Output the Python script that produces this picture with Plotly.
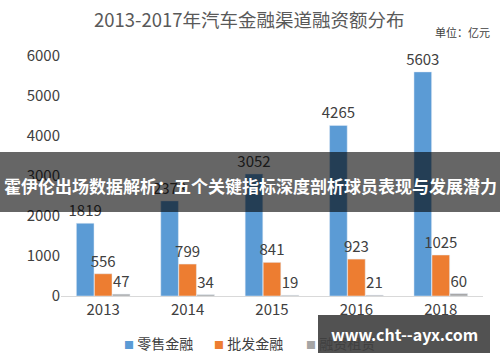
import plotly.graph_objects as go

years = ["2013", "2014", "2015", "2016", "2018"]
retail = [1819, 2378, 3052, 4265, 5603]
wholesale = [556, 799, 841, 923, 1025]
leasing = [47, 34, 19, 21, 60]
series_names = ["零售金融", "批发金融", "融资租赁"]
colors = ["#5B9BD5", "#ED7D31", "#A5A5A5"]
title_text = "2013-2017年汽车金融渠道融资额分布"
unit_text = "单位：亿元"
banner_text = "霍伊伦出场数据解析：五个关键指标深度剖析球员表现与发展潜力"
watermark_text = "www.cht--ayx.com"

FONT = "Noto Sans CJK SC"
fig = go.Figure()
for name, vals, c in zip(series_names, [retail, wholesale, leasing], colors):
    fig.add_trace(go.Bar(
        x=years, y=vals, name=name, marker_color=c,
        text=[str(v) for v in vals], textposition="outside",
        textfont=dict(size=15, color="#404040", family=FONT),
        cliponaxis=False, constraintext="none", showlegend=False,
    ))

W, H = 500, 362
L, R, T, B = 61, 17, 56, 66
pw, ph = W - L - R, H - T - B

def px(x):
    return (x - L) / pw

def py(y):
    return (H - B - y) / ph

fig.update_layout(
    width=W, height=H,
    margin=dict(l=L, r=R, t=T, b=B, autoexpand=False),
    paper_bgcolor="white", plot_bgcolor="white",
    font=dict(family=FONT, color="#404040", size=15),
    barmode="group", bargap=0.36, bargroupgap=0.02,
    xaxis=dict(showline=True, linecolor="#D9D9D9", linewidth=1, ticks="",
               tickfont=dict(size=15, color="#404040"), showgrid=False, automargin=False),
    yaxis=dict(range=[0, 6000], dtick=1000, showgrid=False, zeroline=False,
               tickfont=dict(size=15, color="#404040"), ticks="", showline=False,
               automargin=False),
)

fig.add_annotation(text=title_text, x=px(249), y=py(19), xref="paper", yref="paper",
                   xanchor="center", yanchor="middle",
                   showarrow=False, font=dict(size=18.5, color="#595959", family=FONT))
fig.add_annotation(text=unit_text, x=px(492), y=py(32), xref="paper", yref="paper",
                   xanchor="right", yanchor="middle",
                   showarrow=False, font=dict(size=11, color="#404040", family=FONT))

# manual legend
legend_x = [122, 212, 304]
for name, c, lx in zip(series_names, colors, legend_x):
    fig.add_annotation(text="<span style='color:%s;font-size:10px'>■</span> %s" % (c, name),
                       x=px(lx), y=py(343), xref="paper", yref="paper",
                       xanchor="left", yanchor="middle", showarrow=False,
                       font=dict(size=14, color="#404040", family=FONT))

# overlay banner
fig.add_shape(type="rect", xref="paper", yref="paper", x0=px(0), x1=px(500), y0=py(212), y1=py(152),
              fillcolor="rgba(0,0,0,0.6)", line=dict(width=0), layer="above")
fig.add_annotation(text="<b>" + banner_text + "</b>", x=px(250), y=py(185), xref="paper", yref="paper",
                   xanchor="center", yanchor="middle",
                   showarrow=False, font=dict(size=17, color="white", family=FONT))

# watermark
fig.add_shape(type="rect", xref="paper", yref="paper", x0=px(318), x1=px(490), y0=py(353), y1=py(315),
              fillcolor="rgba(0,0,0,0.68)", line=dict(width=0), layer="above")
fig.add_annotation(text="<b>" + watermark_text + "</b>", x=px(404), y=py(334), xref="paper", yref="paper",
                   xanchor="center", yanchor="middle",
                   showarrow=False, font=dict(size=16, color="white", family=FONT))

fig.write_html("out.html", config={"displayModeBar": False},
               post_script="document.body.style.margin='0';document.body.style.padding='0';")
